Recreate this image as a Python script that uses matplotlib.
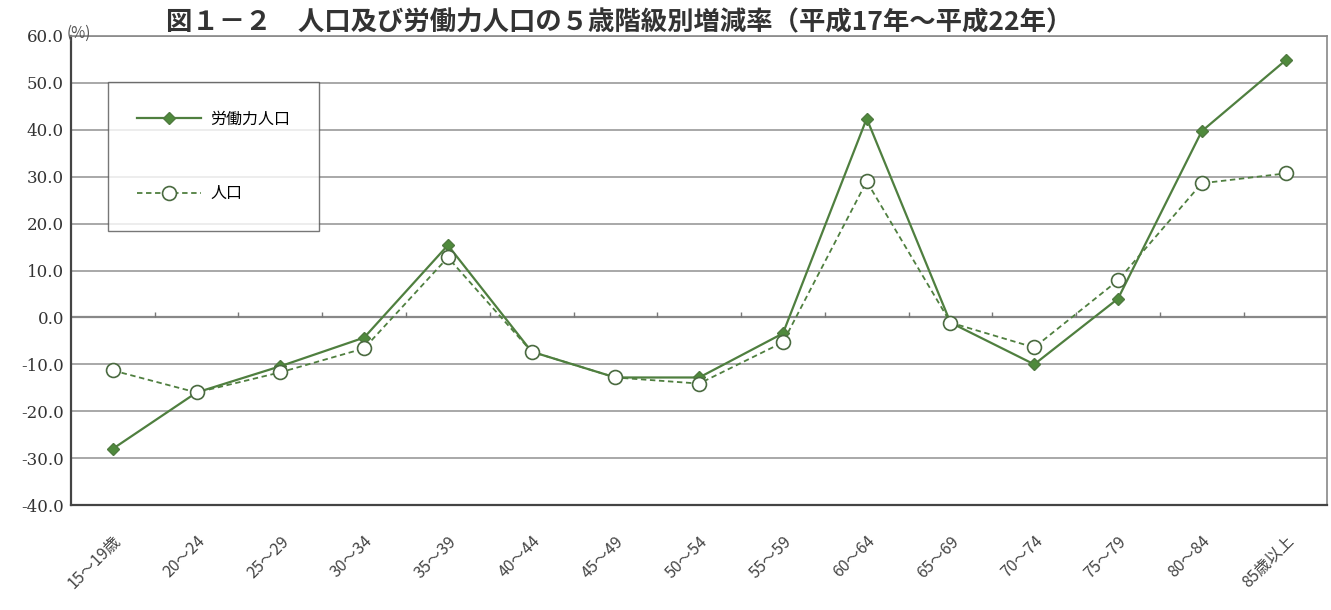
import numpy as np
import matplotlib
matplotlib.use("Agg")
import matplotlib.pyplot as plt

plt.rcParams['font.family'] = ['Noto Sans CJK JP', 'DejaVu Sans']

# age groups and rates of change (%), Heisei 17 -> Heisei 22
age_groups = ["15～19歳", "20～24", "25～29", "30～34", "35～39", "40～44", "45～49",
              "50～54", "55～59", "60～64", "65～69", "70～74", "75～79", "80～84",
              "85歳以上"]
labor_force = [-28.0, -16.0, -10.4, -4.3, 15.4, -7.3, -12.8, -12.8, -3.4,
               42.4, -1.1, -10.0, 4.0, 39.7, 54.8]
population = [-11.3, -16.0, -11.7, -6.6, 12.8, -7.3, -12.8, -14.1, -5.3,
              29.0, -1.1, -6.4, 7.9, 28.6, 30.7]
y_ticks = np.arange(-40, 61, 10)

green = "#4f7f3f"

fig = plt.figure(figsize=(13.31, 6.10), dpi=100)
ax = fig.add_axes([0.0533, 0.172, 0.944, 0.769])

x = np.arange(len(age_groups))

# horizontal gridlines
for yv in y_ticks:
    ax.axhline(yv, color="#9a9a9a", lw=1.2, zorder=1)
ax.axhline(0, color="#888888", lw=1.6, zorder=1)
# category tick marks sitting on the 0 line
ax.vlines(x[:-1] + 0.5, 0, 1.2, color="#777777", lw=1.0, zorder=1)

ax.plot(x, labor_force, color=green, lw=1.6, marker="D", ms=6,
        markerfacecolor="#4f8a3c", markeredgecolor="#4f7a3f",
        label="労働力人口", zorder=3)
ax.plot(x, population, color=green, lw=1.3, ls=(0, (3, 2)), marker="o", ms=10,
        markerfacecolor="white", markeredgecolor="#4a6a40", markeredgewidth=1.2,
        label="人口", zorder=4)

ax.set_xlim(-0.5, len(age_groups) - 0.5)
ax.set_ylim(-40, 60)
ax.set_yticks(y_ticks)
ax.set_yticklabels([f"{v:.1f}" for v in y_ticks], fontsize=12,
                   family=['DejaVu Serif'], color="#333333")
ax.tick_params(axis="y", length=0, pad=5)
ax.set_xticks(x)
ax.set_xticklabels(age_groups, rotation=45, ha="right", rotation_mode="anchor",
                   fontsize=11.5, color="#444444")
ax.tick_params(axis="x", length=0, pad=20)

for side in ["left", "bottom"]:
    ax.spines[side].set_color("#444444")
    ax.spines[side].set_linewidth(1.6)
for side in ["top", "right"]:
    ax.spines[side].set_color("#888888")
    ax.spines[side].set_linewidth(1.2)

leg = ax.legend(loc="upper left", bbox_to_anchor=(0.0295, 0.902), fontsize=11.5,
                frameon=True, fancybox=False, edgecolor="#555555",
                borderpad=1.8, labelspacing=3.6, handlelength=4.0,
                handletextpad=0.6, borderaxespad=0)
leg.get_frame().set_linewidth(1.0)
leg.set_zorder(5)

fig.text(0.05, 0.945, "(%)", fontsize=11, color="#555555", va="center")
fig.text(0.465, 0.962, "図１－２　人口及び労働力人口の５歳階級別増減率（平成17年～平成22年）",
         fontsize=19, fontweight="bold", color="#333333", ha="center", va="center")

fig.savefig("out.png", dpi=100)
